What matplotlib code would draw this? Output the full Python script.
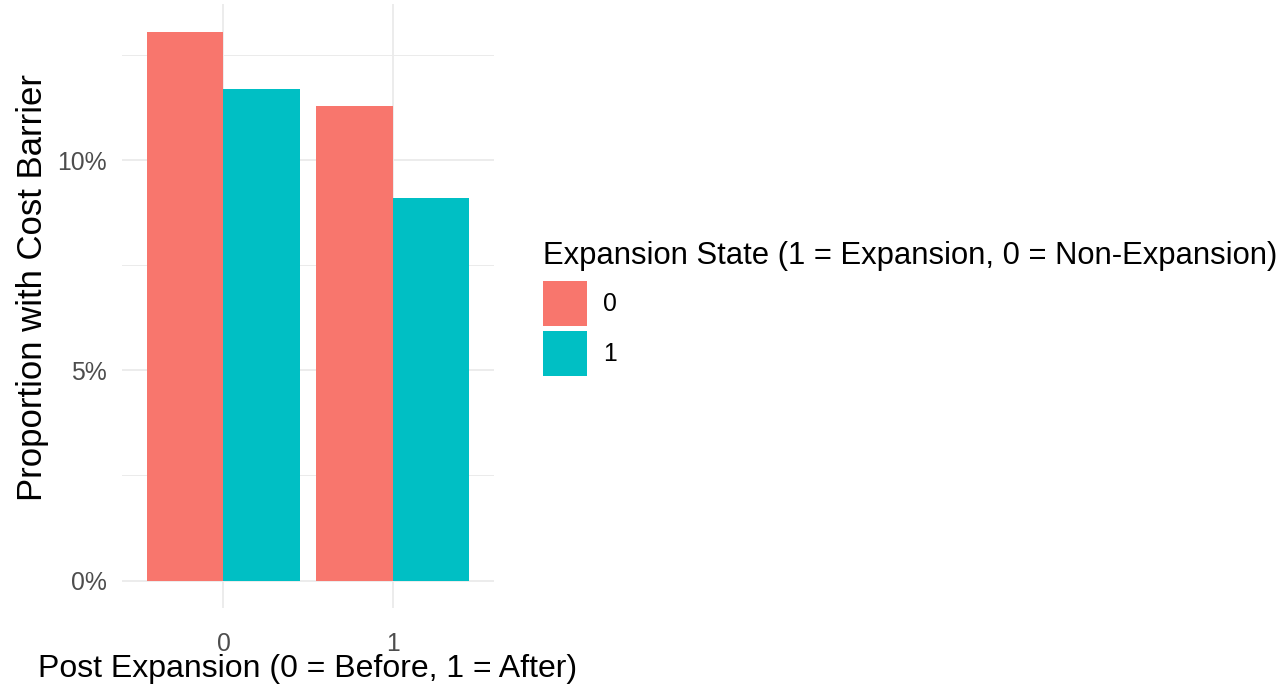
import matplotlib
matplotlib.use("Agg")
import matplotlib.pyplot as plt
import numpy as np
from matplotlib.patches import Patch
from matplotlib.ticker import FuncFormatter

# data
post_groups = ["0", "1"]
state_labels = ["0", "1"]
state0_pct = [13.06, 11.29]
state1_pct = [11.69, 9.10]
colors = ["#F8766D", "#00BFC4"]

plt.rcParams["font.family"] = ["Liberation Sans", "DejaVu Sans"]

fig = plt.figure(figsize=(12.8, 6.93), dpi=100)
ax = fig.add_axes([0.0953, 0.1227, 0.2907, 0.8713])

x = np.arange(len(post_groups))
w = 0.45
ax.bar(x - w / 2, state0_pct, width=w, color=colors[0], zorder=2)
ax.bar(x + w / 2, state1_pct, width=w, color=colors[1], zorder=2)

ymax = max(state0_pct + state1_pct)
ax.set_xlim(-0.6, 1.6)
ax.set_ylim(-0.05 * ymax, ymax * 1.05)
ax.set_xticks(x)
ax.set_xticklabels(post_groups)
ax.set_yticks([0, 5, 10])
ax.set_yticks([2.5, 7.5, 12.5], minor=True)
ax.yaxis.set_major_formatter(FuncFormatter(lambda v, p: f"{v:.0f}%"))

ax.grid(True, which="major", color="#EBEBEB", linewidth=1.3, zorder=0)
ax.grid(True, which="minor", axis="y", color="#EBEBEB", linewidth=0.7, zorder=0)
for s in ax.spines.values():
    s.set_visible(False)
ax.tick_params(which="both", length=0, labelsize=17.8, labelcolor="#4D4D4D")
ax.tick_params(axis="x", pad=17)
ax.tick_params(axis="y", pad=11)

ax.set_xlabel("Post Expansion (0 = Before, 1 = After)", fontsize=23, labelpad=-1)
ax.set_ylabel("Proportion with Cost Barrier", fontsize=25, labelpad=6)
ax.yaxis.label.set_y(0.53)

handles = [Patch(facecolor=c, edgecolor="none") for c in colors]
leg = fig.legend(handles, state_labels, title="Expansion State (1 = Expansion, 0 = Non-Expansion)",
                 loc="upper left", bbox_to_anchor=(0.4242, 0.652), frameon=False,
                 fontsize=17.8, title_fontsize=22.3, handlelength=1.78, handleheight=2.42,
                 labelspacing=0.2, handletextpad=0.65, borderaxespad=0, borderpad=0)
leg._legend_box.align = "left"
leg._legend_box.sep = 7

fig.savefig("out.png", dpi=100)
